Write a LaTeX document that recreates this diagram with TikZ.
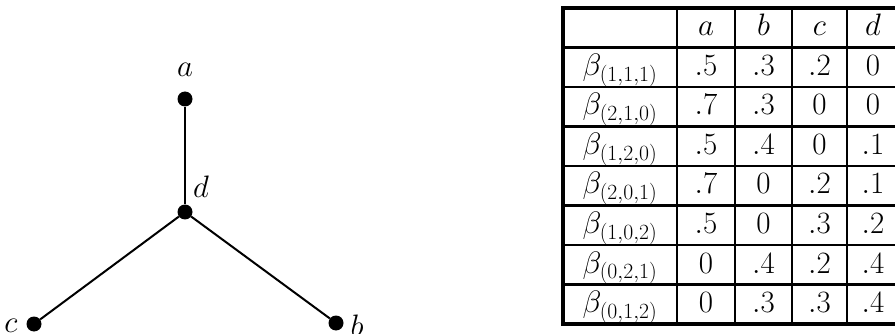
\documentclass[tikz,border=0pt]{standalone}
\usepackage{fix-cm}
\begin{document}
\begin{tikzpicture}[x=1pt,y=-1pt,
  vtx/.style={circle,fill,inner sep=0pt,minimum size=15pt},
  edge/.style={line width=2pt},
  lbl/.style={anchor=base,inner sep=0pt,font=\fontsize{31}{37}\selectfont},
  gridline/.style={line width=2.3pt},
  outerline/.style={line width=3.3pt}]
\useasboundingbox (0,0) rectangle (895,334);
% graph
\node[vtx] (a) at (185,99) {};
\node[vtx] (d) at (185,212) {};
\node[vtx] (c) at (34,324) {};
\node[vtx] (b) at (336,323) {};
\draw[edge] (d) -- (a);
\draw[edge] (d) -- (c);
\draw[edge] (d) -- (b);
\node[lbl] (la) at (185,77) {$a$};
\node[lbl] (ld) at (201,197) {$d$};
\node[lbl] (lc) at (11,332) {$c$};
\node[lbl] (lb) at (357,336) {$b$};
% table grid
\foreach \x in {677,735,792,847} \draw[gridline] (\x,8) -- (\x,324);
\foreach \y in {47.5,87,126.5,166,205.5,245,284.5} \draw[gridline] (563,\y) -- (895,\y);
\draw[outerline] (895,8) -- (563,8) -- (563,324) -- (895,324);
% header
\node[lbl] (ha) at (706,36) {$a$};
\node[lbl] (hb) at (763.5,36) {$b$};
\node[lbl] (hc) at (819.5,36) {$c$};
\node[lbl] (hd) at (873,36) {$d$};
% rows
\foreach \r/\s/\va/\vb/\vc/\vd in {
  1/{1,1,1}/.5/.3/.2/0,
  2/{2,1,0}/.7/.3/0/0,
  3/{1,2,0}/.5/.4/0/.1,
  4/{2,0,1}/.7/0/.2/.1,
  5/{1,0,2}/.5/0/.3/.2,
  6/{0,2,1}/0/.4/.2/.4,
  7/{0,1,2}/0/.3/.3/.4}{
  \pgfmathsetmacro{\yb}{8+39.5*\r+28}
  \node[lbl] (r\r c0) at (620,\yb) {$\beta_{(\s)}$};
  \node[lbl] (r\r c1) at (706,\yb) {$\va$};
  \node[lbl] (r\r c2) at (763.5,\yb) {$\vb$};
  \node[lbl] (r\r c3) at (819.5,\yb) {$\vc$};
  \node[lbl] (r\r c4) at (873,\yb) {$\vd$};
}
\end{tikzpicture}
\end{document}
